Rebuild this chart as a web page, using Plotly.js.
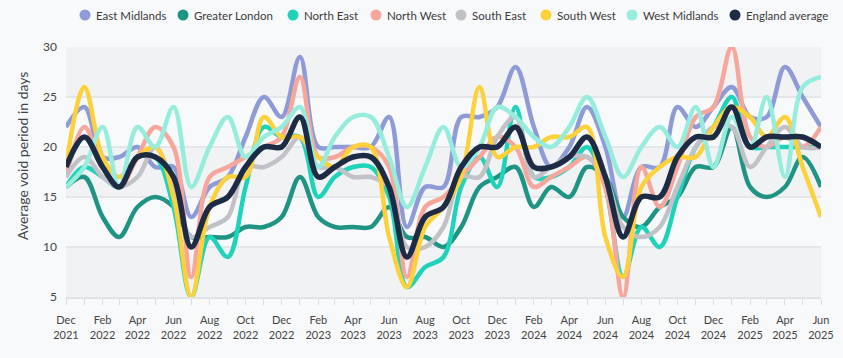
<!DOCTYPE html>
<html><head><meta charset="utf-8">
<script src="https://cdn.plot.ly/plotly-3.0.1.min.js"></script>
<style>html,body{margin:0;padding:0;background:#f8f9fa;} #chart{width:843px;height:358px;}</style>
</head><body><div id="chart"></div>
<script>
// ---- data ----
const months = ["2021-12","2022-01","2022-02","2022-03","2022-04","2022-05","2022-06","2022-07","2022-08","2022-09","2022-10","2022-11",
"2022-12","2023-01","2023-02","2023-03","2023-04","2023-05","2023-06","2023-07","2023-08","2023-09","2023-10","2023-11",
"2023-12","2024-01","2024-02","2024-03","2024-04","2024-05","2024-06","2024-07","2024-08","2024-09","2024-10","2024-11",
"2024-12","2025-01","2025-02","2025-03","2025-04","2025-05","2025-06"];
const eastMidlands   = [22,24,19,19,20,18,18,13,16,17,21,25,23,29,20,20,20,20,23,12,16,16,23,23,24,28,22,18,20,24,20,13,18,18,24,22,24,26,23,23,28,25,22];
const greaterLondon  = [16,17,13,11,14,15,14,11,11,11,12,12,13,17,13,12,12,12,14,11,11,10,12,16,17,18,14,16,15,18,17,13,12,14,15,18,18,22,16,15,16,19,16];
const northEast      = [16,18,17,16,19,19,14,5,11,9,16,22,21,21,15,17,18,18,15,6,8,9,16,19,16,24,17,17,18,20,16,7,12,10,15,20,22,25,20,20,20,20,20];
const northWest      = [17,22,18,16,19,22,20,7,17,18,19,20,21,27,19,19,20,20,18,7,14,15,17,19,21,20,16,17,18,19,16,5,18,14,18,23,24,30,21,20,21,20,22];
const southEast      = [17,19,17,16,17,20,16,11,12,13,18,18,19,21,18,18,17,17,16,10,10,12,17,17,21,23,17,18,19,19,17,12,11,12,16,20,22,22,18,20,22,20,20];
const southWest      = [18,26,19,17,19,20,15,5,14,17,17,23,21,21,19,18,20,20,11,6,12,14,17,26,19,20,20,21,21,22,11,7,16,18,19,19,22,24,23,21,23,18,13];
const westMidlands   = [16,18,22,16,22,20,24,16,20,23,19,21,22,24,18,21,23,23,19,14,18,22,18,20,24,23,21,20,22,25,21,17,20,22,20,24,18,23,20,25,17,26,27];
const englandAverage = [18,21,18,16,19,19,17,10,14,15,18,20,20,23,17,18,19,19,16,9,13,14,18,20,20,22,18,18,19,21,17,11,15,15,19,21,21,24,20,21,21,21,20];
const seriesNames = ["East Midlands","Greater London","North East","North West","South East","South West","West Midlands","England average"];
const yTicks = [5,10,15,20,25,30];
const yTitle = "Average void period in days";

// ---- styles ----
const seriesData = [eastMidlands, greaterLondon, northEast, northWest, southEast, southWest, westMidlands, englandAverage];
const seriesColors = ["#8f9bd6","#1f9384","#1ed3b9","#f7a69c","#c1c1c7","#fdd13a","#96ecdd","#1d2b44"];
const legendPx = [85,183,293,376,461,546,632,735];
const L = 66, R = 22, T = 47, B = 61, W = 843, H = 358;
const plotW = W - L - R, plotH = H - T - B;
const FONT = "Lato, 'Open Sans', sans-serif";

const traces = seriesData.map((vals, k) => ({
  type: 'scatter', mode: 'lines', x: months, y: vals, name: seriesNames[k],
  line: {color: seriesColors[k], width: k === 7 ? 5.5 : 4.5, shape: 'spline', smoothing: 1},
  cliponaxis: false, showlegend: false
}));

const shapes = [];
for (let j = yTicks.length - 1; j > 0; j -= 2) {
  shapes.push({type: 'rect', xref: 'paper', yref: 'y', x0: 0, x1: 1, y0: yTicks[j-1], y1: yTicks[j],
    fillcolor: '#f1f2f4', line: {width: 0}, layer: 'below'});
}
const annotations = [];
const legY = (H - B - 15) / plotH;
seriesNames.forEach((n, k) => {
  const px = (legendPx[k] - L) / plotW;
  shapes.push({type: 'circle', xref: 'paper', yref: 'paper', xsizemode: 'pixel', ysizemode: 'pixel',
    xanchor: px, yanchor: legY, x0: -5.5, x1: 5.5, y0: -5.5, y1: 5.5,
    fillcolor: seriesColors[k], line: {width: 0}});
  annotations.push({xref: 'paper', yref: 'paper', x: (legendPx[k] + 8.5 - L) / plotW, y: legY,
    xanchor: 'left', yanchor: 'middle', showarrow: false, text: n,
    font: {family: FONT, size: 11.5, color: '#3a3a3a'}});
});
annotations.push({xref: 'paper', yref: 'paper', x: (22 - L) / plotW, y: (H - B - 156) / plotH,
  xanchor: 'center', yanchor: 'middle', textangle: -90, showarrow: false, text: yTitle,
  font: {family: FONT, size: 14, color: '#444'}});

const layout = {
  width: W, height: H,
  margin: {l: L, r: R, t: T, b: B},
  paper_bgcolor: '#f8f9fa', plot_bgcolor: '#f8f9fa',
  font: {family: FONT, size: 11, color: '#444'},
  showlegend: false,
  xaxis: {
    type: 'date', range: ['2021-12-01', '2025-06-01'],
    tick0: '2021-12-01', dtick: 'M2', tickformat: '%b<br>%Y',
    ticks: 'outside', ticklen: 6, tickcolor: '#dcdde0', tickwidth: 1,
    minor: {dtick: 'M1', ticks: 'outside', ticklen: 6, tickcolor: '#dcdde0', tickwidth: 1, showgrid: false},
    showgrid: false, showline: true, linecolor: '#e1e2e5', linewidth: 2, zeroline: false,
    tickfont: {family: FONT, size: 11, color: '#444'}, ticklabelstandoff: 6, fixedrange: true
  },
  yaxis: {
    range: [5, 30], tickvals: yTicks, showgrid: true, gridcolor: '#e5e6e9', gridwidth: 1.5,
    zeroline: false, ticks: '', tickfont: {family: FONT, size: 12, color: '#444'}, ticklabelstandoff: 8,
    fixedrange: true
  },
  shapes: shapes, annotations: annotations
};

Plotly.newPlot('chart', traces, layout, {displayModeBar: false, staticPlot: true});
</script></body></html>
